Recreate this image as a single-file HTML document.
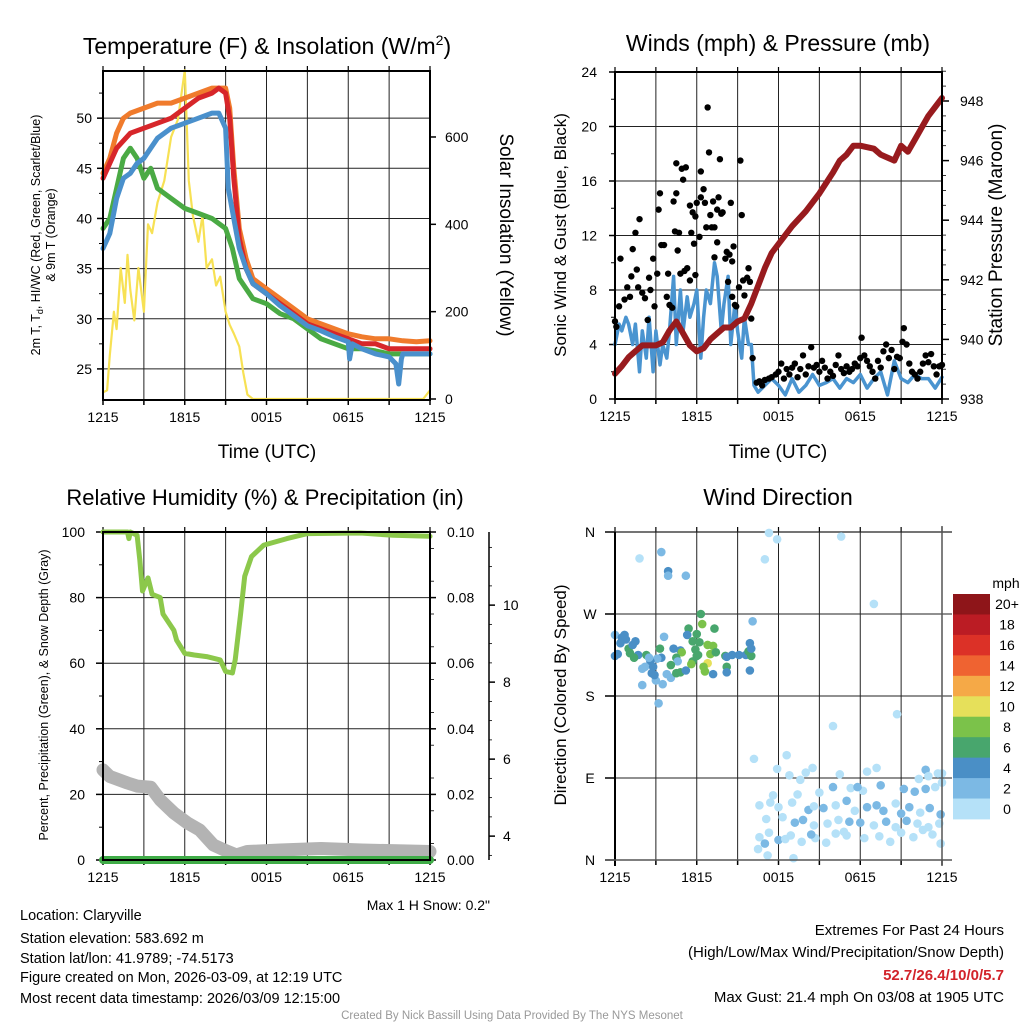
<!DOCTYPE html>
<html><head><meta charset="utf-8"><style>
body{margin:0;background:#fff;}
svg{display:block;font-family:"Liberation Sans",Arial,sans-serif;}
</style></head><body>
<svg id="c" width="1024" height="1024" viewBox="0 0 1024 1024" xmlns="http://www.w3.org/2000/svg"></svg>
<script>
// ---------- DATA ----------
const timeTicks = [0, 6, 12, 18, 24];
const timeTickLabels = ["1215", "1815", "0015", "0615", "1215"];
// Panel 1: temperatures (F)
const redT = [0,1,2,3,4,5,6,7,8,8.5,9,9.3,9.6,10,10.5,11,12,13,14,15,16,17,18,19,20,21,22,23,24];
const redV = [44,47,48.5,49,49.5,50,51,52,52.5,53,52.5,50,44,38,35,33.5,32.5,31.5,30.5,29.5,29,28.5,28,27.5,27.5,27,27,27,27];
const orangeT = [0,0.5,1,1.5,2,3,4,5,6,7,8,9,9.3,9.6,10,10.5,11,12,13,14,15,16,17,18,19,20,21,22,23,24];
const orangeV = [44.5,46,48.5,50,50.5,51,51.5,51.5,52,52.5,53,53,51,45,39,36,34,33,32,31,30,29.5,29,28.5,28.2,28,28,27.8,27.7,27.8];
const blueT = [0,0.5,1,1.5,2,2.5,3,3.5,4,5,6,7,8,8.5,9,9.2,9.6,10,10.5,11,12,13,14,15,16,17,18,18.1,18.3,19,20,21,21.5,21.7,21.9,22,23,24];
const blueV = [37,38.5,42,44,44.5,45.5,46,47,48,49,49.5,50,50.5,50.5,49,43,40,37,35,33.5,32.5,31.3,30.3,29.3,28.8,28.2,27.7,26,27.5,27,26.5,26.2,25.5,23.5,26,26.5,26.5,26.5];
const greenT = [0,0.5,1,1.5,2,2.5,3,3.5,4,5,6,7,8,9,9.5,10,10.5,11,12,13,14,15,16,17,18,19,20,21,22,23,24];
const greenV = [39,40,43,46,47,46,44,45,43,42,41,40.5,40,39,37,34,33,32,31.5,30.5,30,29,28,27.5,27,27,26.8,26.5,26.5,26.5,26.5];
const solarT = [0,0.3,0.5,0.8,1,1.3,1.6,1.8,2,2.3,2.6,3,3.3,3.6,4,4.5,5,5.5,6,6.3,6.6,7,7.3,7.6,8,8.3,8.6,9,9.3,9.6,10,10.3,10.6,11,23.5,24];
const solarV = [15,20,100,200,160,300,220,330,250,180,300,200,400,380,450,500,600,640,753,500,420,360,420,300,320,260,280,200,170,150,120,60,10,0,0,20];
// Panel 2: winds (mph) and pressure (mb)
const windT = [0,0.3,0.5,0.8,1,1.3,1.5,1.8,2,2.3,2.5,2.8,3,3.3,3.5,3.8,4,4.3,4.5,4.8,5,5.3,5.5,5.8,6,6.3,6.5,6.7,7,7.3,7.5,7.8,8,8.3,8.5,8.8,9,9.3,9.5,9.8,10,10.2,10.5,11,11.5,12,12.5,13,13.5,14,14.5,15,15.5,16,16.5,17,17.5,18,18.5,19,19.5,20,20.5,21,21.5,22,22.5,23,23.5,24];
const windV = [4,5.5,5,6,5.5,4,5.5,2,5,3,6,2,5,2.5,4,3,5,9,4,8,5,7.5,6,7,8,3,6,8,7,10,9,5,7,9,4,7,5,3,6,4,4,1,0.5,1,1.5,1,0.3,1.5,0.5,1,1.8,1,1.2,1.5,0.8,1.5,1.2,1.8,0.8,1.5,2,0.3,2.8,1.5,1.2,1.8,1.5,1.5,0.8,1.6];
const gustT = [0,0.1,0.3,0.4,0.7,0.9,1.1,1.2,1.3,1.5,1.6,1.7,1.8,2.0,2.2,2.4,2.5,2.6,2.8,2.9,3.1,3.2,3.3,3.4,3.6,3.8,3.9,4.0,4.2,4.3,4.4,4.5,4.5,4.6,4.7,4.8,4.9,5.0,5.1,5.2,5.3,5.5,5.5,5.6,5.7,5.8,5.9,5.9,6.0,6.2,6.3,6.3,6.5,6.6,6.7,6.8,6.9,7.0,7.1,7.2,7.3,7.3,7.5,7.5,7.6,7.7,7.8,7.9,8.1,8.2,8.3,8.4,8.5,8.6,8.6,8.7,8.8,8.9,9.1,9.2,9.3,9.4,9.5,9.7,9.8,9.9,10.0,10.1,10.4,10.6,10.8,11.0,11.3,11.5,11.8,12.0,12.2,12.4,12.6,12.8,13.0,13.2,13.4,13.6,13.8,14.0,14.2,14.4,14.6,14.8,15.0,15.2,15.4,15.6,15.8,16.0,16.2,16.4,16.6,16.8,17.0,17.2,17.4,17.6,17.8,18.0,18.1,18.3,18.5,18.7,18.9,19.1,19.3,19.5,19.7,19.9,20.1,20.3,20.5,20.7,20.9,21.1,21.2,21.4,21.6,21.8,22.0,22.2,22.4,22.6,22.8,23.0,23.2,23.4,23.6,23.8,24.0];
const gustV = [5.7,5.3,6.8,10.3,7.3,8.2,7.5,9.0,11.0,12.2,9.5,8.2,13.2,7.8,7.4,5.8,8.9,8.0,10.3,6.8,9.2,13.9,15.1,11.3,11.3,7.5,9.2,6.9,6.7,14.5,12.3,15.1,17.3,10.9,12.2,9.2,16.9,16.1,9.4,17.0,9.6,14.2,8.7,12.2,13.7,11.4,9.1,13.4,14.4,11.9,14.8,16.7,15.4,14.4,12.6,21.4,18.1,13.5,12.6,14.5,12.6,10.4,11.5,13.9,14.8,17.6,13.6,13.7,10.3,10.8,8.6,10.6,14.4,10.1,7.5,11.2,6.9,6.8,8.2,17.5,13.5,8.7,7.6,8.9,9.6,8.6,5.9,3.0,1.2,1.3,1.0,1.4,1.5,1.6,1.8,2.0,2.6,1.5,2.2,1.8,2.3,2.6,1.6,2.2,3.2,1.8,2.4,3.8,2.3,2.5,2.0,2.8,2.3,1.5,2.0,1.7,2.5,3.2,2.2,1.9,2.4,2.0,2.2,2.6,2.4,3.0,4.5,3.2,2.8,2.4,2.0,1.5,2.8,2.3,3.5,4.0,3.0,3.6,2.2,3.1,3.0,4.2,5.2,4.0,2.6,2.0,1.8,1.5,2.0,2.6,3.2,2.7,3.3,2.4,1.8,2.4,2.5];
const presT = [0,0.5,1,1.5,2,2.5,3,3.5,4,4.5,5,5.5,6,6.5,7,7.5,8,8.5,9,9.5,10,10.5,11,11.5,12,13,14,15,16,16.5,17,17.5,18,19,19.5,20,20.5,21,21.5,22,22.5,23,23.5,24];
const presV = [938.85,939.1,939.4,939.6,939.8,939.8,939.8,939.9,940.3,940.6,940.2,939.8,939.6,939.7,940.0,940.2,940.4,940.4,940.6,940.7,941.2,941.8,942.4,942.9,943.2,943.8,944.3,944.9,945.6,946.0,946.2,946.5,946.5,946.4,946.2,946.1,946.0,946.5,946.3,946.7,947.1,947.5,947.8,948.1];
// Panel 3: RH (%), precip (in), snow depth (in)
const rhT = [0,1.8,1.9,2.0,2.5,2.7,2.9,3.3,3.6,4.2,4.4,5.2,5.4,6,6.7,7.6,8.6,9,9.5,9.7,10.1,10.4,10.9,11.8,13.5,15,18.9,21.3,24];
const rhV = [100,100,98,100,99,91.5,82,86,81,80,75,70,67,63,62.5,62,61,57.5,57,61,75,86.5,92.5,96,98,99.5,99.7,99,98.7];
const precipT = [0,24];
const precipV = [0,0];
const snowT = [0,0.5,1.8,2.5,3.5,4.2,5.2,6.2,7.1,8.1,8.9,9.8,10.6,13,16,19,24];
const snowV = [5.72,5.55,5.38,5.3,5.27,4.94,4.6,4.34,4.16,3.77,3.64,3.51,3.6,3.64,3.68,3.64,3.6];
// Panel 4: wind direction (deg) coloured by speed (mph)
const dirT = [1.8,3.4,3.9,3.9,5.2,11.3,11.0,11.9,16.6,19.0,10.1,6.3,6.4,7.3,5.4,5.3,3.6,0.0,0.5,0.7,0.8,0.4,1.5,1.0,1.3,1.1,1.7,2.3,1.4,0,0.2,3.3,4.3,4.8,4.9,5.7,6.0,6.2,6.8,7.2,5.9,6.1,7.0,7.4,8.1,8.6,9.1,9.6,9.8,10.0,10.0,9.9,8.2,8.2,6.8,6.6,6.5,6.0,5.7,5.6,4.5,4.6,4.1,3.4,3.1,2.6,2.5,2.0,2.2,2.8,2.7,3.8,4.1,4.5,4.8,5.2,7.2,8.2,9.9,2.0,3.0,2.9,3.2,3.5,
 10.2,16.0,20.7,12.6,14.5,11.9,13.6,12.8,14.0,16.5,18.5,19.2,22.8,23.7,24,23.0,22.3,11.6,13.4,15.0,16.0,17.3,18.2,17.8,19.5,21.2,22.0,22.8,23.5,24,10.6,11.4,12.0,13.0,14.2,14.6,15.3,16.2,17.0,17.6,18.5,19.2,19.7,20.6,21.0,21.6,22.4,23.1,23.9,11.1,12.3,13.2,13.8,14.6,15.6,16.4,17.2,18.0,19.0,19.9,20.6,21.4,22.2,23.0,23.8,10.6,11.3,12.0,12.9,13.7,14.7,15.5,16.2,17.0,18.3,19.4,20.2,21.0,23.9,11.0,10.5,11.2,13.1,12.5,16.8,14.4,21.9,22.6,23.3];
const dirV = [331,338,317,312,312,359,330,352,355,281,262,270,259,254,254,247,245,247,244,247,242,238,240,232,236,227,225,225,222,224,226,232,232,230,228,240,248,239,236,235,231,225,226,228,224,225,225,225,229,224,232,238,212,223,216,207,212,224,218,215,222,218,214,222,221,218,222,210,212,212,205,204,200,205,206,208,204,206,208,192,197,203,172,193,
 111,147,160,115,101,100,88,93,96,94,97,101,99,95,95,92,89,71,72,74,80,79,76,80,82,78,75,78,80,85,60,63,58,63,55,59,57,60,65,54,58,60,54,62,51,58,52,57,50,45,47,41,44,38,40,44,42,41,38,42,36,43,40,36,40,25,30,22,27,20,24,19,29,27,24,26,20,30,18,18,12,5,2,23,31,28,25,33,28];
const dirS = [1,3,5,3,3,1,1,1,1,1,3,7,9,7,7,5,3,3,5,5,5,5,5,7,5,7,5,7,7,5,5,7,5,5,9,7,7,7,9,9,7,7,9,7,7,5,5,5,7,7,5,5,7,5,11,9,9,7,7,9,7,3,7,5,3,5,3,3,3,5,5,3,3,7,7,5,5,5,5,3,3,5,3,3,
 1,1,1,1,1,1,1,1,1,1,1,1,3,1,1,1,1,1,1,1,3,1,1,3,3,3,3,3,1,1,1,1,1,1,3,1,3,1,3,1,3,3,3,1,3,3,1,3,3,1,1,3,3,1,1,1,3,3,1,3,1,3,1,1,1,1,1,3,1,1,1,1,1,1,1,1,1,1,1,3,1,1,1,1,1,3,1,1,1];
const speedBinLabels = ["20+","18","16","14","12","10","8","6","4","2","0"];
const speedBinColors = ["#8e1519","#bb1c24","#dc3127","#ef6331","#f5a947","#e6e05a","#7bc24a","#48a66d","#4a8fc6","#7cb9e4","#b5e1f8"];

// ---------- HELPERS ----------
const NS = "http://www.w3.org/2000/svg";
const svg = document.getElementById("c");
function mk(tag, attrs, name, parent) {
  const el = document.createElementNS(NS, tag);
  for (const k in attrs) el.setAttribute(k, attrs[k]);
  
  
  (parent || svg).appendChild(el);
  return el;
}
function txt(x, y, s, size, anchor, name, extra) {
  const el = mk("text", Object.assign({x: x, y: y, "font-size": size, "text-anchor": anchor || "middle", fill: "#000"}, extra || {}), name);
  el.textContent = s;
  return el;
}
function ln(x1, y1, x2, y2, stroke, w, name) {
  return mk("line", {x1: x1, y1: y1, x2: x2, y2: y2, stroke: stroke, "stroke-width": w}, name);
}
function series(ts, vs, X, Y, color, w, name, cap) {
  let d = "";
  for (let i = 0; i < ts.length; i++) d += (i ? "L" : "M") + X(ts[i]).toFixed(1) + "," + Y(vs[i]).toFixed(1);
  return mk("path", {d: d, fill: "none", stroke: color, "stroke-width": w, "stroke-linejoin": "round", "stroke-linecap": cap || "round"}, name);
}
function frame(x0, y0, x1, y1, name) {
  mk("rect", {x: x0, y: y0, width: x1 - x0, height: y1 - y0, fill: "none", stroke: "#000", "stroke-width": 2}, name);
}
function timeAxis(X, yb, x0, x1, yt, prefix) {
  for (let h = 3; h < 24; h += 3) ln(X(h), yt, X(h), yb, "#222", 1, prefix + "-vgrid");
  for (let h = 0; h <= 24; h += 3) ln(X(h), yb, X(h), yb + 5, "#000", 1.5, prefix + "-x-tick");
  for (let h = 0; h <= 24; h += 3) ln(X(h), yt, X(h), yt - 5, "#000", 1.2, prefix + "-x-top-tick");
  for (let i = 0; i < timeTicks.length; i++) txt(X(timeTicks[i]), yb + 22, timeTickLabels[i], 14, "middle", prefix + "-x-tick-label");
}

// ---------- PANEL 1: Temperature ----------
const X1 = t => 103 + t * 327 / 24;
const YT = v => 400 - (v - 21.9) * 10.03;
const YS = w => 399 - w * 0.4367;
timeAxis(X1, 400, 103, 430, 71, "temp");
for (let v = 25; v <= 50; v += 5) {
  ln(103, YT(v), 430, YT(v), "#222", 1, "temp-hgrid");
  ln(97, YT(v), 103, YT(v), "#000", 1.5, "temp-y-tick");
  txt(92, YT(v) + 5, String(v), 14, "end", "temp-y-tick-label");
}
for (let v = 27.5; v <= 55; v += 5) ln(99, YT(v), 103, YT(v), "#000", 1, "temp-y-minor-tick");
for (let w = 0; w <= 600; w += 200) {
  ln(430, YS(w), 436, YS(w), "#000", 1.5, "solar-y-tick");
  txt(445, YS(w) + 5, String(w), 14, "start", "solar-y-tick-label");
}
series(solarT, solarV, X1, YS, "#f7e154", 2.2, "solar-insolation-line");
series(greenT, greenV, X1, YT, "#4aaa44", 5, "dewpoint-line");
series(orangeT, orangeV, X1, YT, "#f07b2c", 5, "temp-9m-line");
series(redT, redV, X1, YT, "#d7262a", 5, "temp-2m-line");
series(blueT, blueV, X1, YT, "#4a90cc", 5, "heat-index-windchill-line");
frame(103, 71, 430, 400, "temp-plot-frame");
const t1 = txt(267, 54, "", 23, "middle", "temp-chart-title");
t1.innerHTML = 'Temperature (F) &amp; Insolation (W/m<tspan dy="-9" font-size="14">2</tspan><tspan dy="9">)</tspan>';
txt(267, 458, "Time (UTC)", 19, "middle", "temp-x-axis-title");
const yl1 = txt(0, 0, "", 12.5, "middle", "temp-y-axis-title", {transform: "translate(40,235) rotate(-90)"});
yl1.innerHTML = '2m T, T<tspan dy="3" font-size="9">d</tspan><tspan dy="-3">, HI/WC (Red, Green, Scarlet/Blue)</tspan>';
txt(0, 0, "& 9m T (Orange)", 12.5, "middle", "temp-y-axis-title-line2", {transform: "translate(55,235) rotate(-90)"});
txt(0, 0, "Solar Insolation (Yellow)", 19, "middle", "solar-y-axis-title", {transform: "translate(500,235) rotate(90)"});

// ---------- PANEL 2: Winds ----------
const X2 = t => 615 + t * 327 / 24;
const YW = v => 399 - v * 327 / 24;
const YP = p => 399 - (p - 938) * 29.8;
timeAxis(X2, 399, 615, 942, 72, "wind");
for (let v = 0; v <= 24; v += 4) {
  if (v > 0 && v < 24) ln(615, YW(v), 942, YW(v), "#222", 1, "wind-hgrid");
  ln(609, YW(v), 615, YW(v), "#000", 1.5, "wind-y-tick");
  txt(597, YW(v) + 5, String(v), 14, "end", "wind-y-tick-label");
}
for (let v = 2; v <= 22; v += 4) ln(611, YW(v), 615, YW(v), "#000", 1, "wind-y-minor-tick");
for (let p = 938; p <= 948; p += 2) {
  ln(942, YP(p), 949, YP(p), "#000", 1.5, "pressure-y-tick");
  txt(960, YP(p) + 5, String(p), 14, "start", "pressure-y-tick-label");
}
for (let p = 938.5; p <= 949; p += 0.5) if (p % 2) ln(942, YP(p), 946, YP(p), "#000", 0.8, "pressure-y-minor-tick");
series(windT, windV, X2, YW, "#4a94d0", 3.5, "sonic-wind-line");
for (let i = 0; i < gustT.length; i++) {
  mk("circle", {cx: X2(gustT[i]), cy: YW(gustV[i]), r: 3.2, fill: "#000"}, "gust-point");
}
series(presT, presV, X2, YP, "#981b1e", 6, "station-pressure-line");
frame(615, 72, 942, 399, "wind-plot-frame");
txt(778, 51, "Winds (mph) & Pressure (mb)", 23, "middle", "wind-chart-title");
txt(778, 458, "Time (UTC)", 19, "middle", "wind-x-axis-title");
txt(0, 0, "Sonic Wind & Gust (Blue, Black)", 17, "middle", "wind-y-axis-title", {transform: "translate(566,235) rotate(-90)"});
txt(0, 0, "Station Pressure (Maroon)", 19, "middle", "pressure-y-axis-title", {transform: "translate(1002,235) rotate(-90)"});

// ---------- PANEL 3: RH ----------
const X3 = t => 103 + t * 327 / 24;
const YR = v => 860 - v * 3.28;
const YPr = v => 860 - v * 3280;
const YSn = s => 860 - (s - 3.38) * 38.5;
timeAxis(X3, 860, 103, 430, 532, "rh");
for (let v = 0; v <= 100; v += 20) {
  if (v > 0) ln(103, YR(v), 430, YR(v), "#222", 1, "rh-hgrid");
  ln(96, YR(v), 103, YR(v), "#000", 1.5, "rh-y-tick");
  txt(85, YR(v) + 5, String(v), 14, "end", "rh-y-tick-label");
}
for (let v = 10; v <= 90; v += 20) ln(99, YR(v), 103, YR(v), "#000", 1, "rh-y-minor-tick");
for (let i = 0; i <= 5; i++) {
  const v = i * 0.02;
  ln(430, YPr(v), 436, YPr(v), "#000", 1.5, "precip-y-tick");
  txt(447, YPr(v) + 5, v.toFixed(2), 14, "start", "precip-y-tick-label");
}
for (let i = 1; i < 20; i += 2) ln(430, YPr(i * 0.005), 434, YPr(i * 0.005), "#000", 0.8, "precip-y-minor-tick");
ln(489, 532, 489, 860, "#000", 1.5, "snow-y-axis-line");
for (let s = 4; s <= 10; s += 2) {
  ln(489, YSn(s), 495, YSn(s), "#000", 1.5, "snow-y-tick");
  txt(503, YSn(s) + 5, String(s), 14, "start", "snow-y-tick-label");
}
for (let s = 3.5; s <= 11.5; s += 0.5) if (s % 2) ln(489, YSn(s), 492, YSn(s), "#000", 0.8, "snow-y-minor-tick");
series(rhT, rhV, X3, YR, "#8cc84b", 5, "relative-humidity-line");
series(snowT, snowV, X3, YSn, "#b3b3b3", 13, "snow-depth-line");
series(precipT, precipV, X3, YPr, "#3fac47", 8, "precipitation-line");
frame(103, 532, 430, 860, "rh-plot-frame");
txt(265, 505, "Relative Humidity (%) & Precipitation (in)", 22, "middle", "rh-chart-title");
txt(0, 0, "Percent, Precipitation (Green), & Snow Depth (Gray)", 12.5, "middle", "rh-y-axis-title", {transform: "translate(48,695) rotate(-90)"});
txt(490, 910, 'Max 1 H Snow: 0.2"', 14, "end", "max-snow-note");

// ---------- PANEL 4: Wind direction ----------
const X4 = t => 615 + t * 327 / 24;
const YD = d => 860 - d * 328 / 360;
function speedColor(s) {
  let idx = 10 - Math.floor(s / 2);
  if (idx < 0) idx = 0;
  if (idx > 10) idx = 10;
  return speedBinColors[idx];
}
timeAxis(X4, 860, 615, 942, 532, "dir");
const dirLabels = ["N", "E", "S", "W", "N"];
for (let i = 0; i < 5; i++) {
  const d = i * 90;
  if (i > 0 && i < 4) ln(605, YD(d), 952, YD(d), "#222", 1, "dir-hgrid");
  ln(605, YD(d), 615, YD(d), "#000", 1.5, "dir-y-tick");
  txt(590, YD(d) + 5, dirLabels[i], 14, "middle", "dir-y-tick-label");
}
ln(605, YD(360), 952, YD(360), "#222", 1.2, "dir-top-line");
for (let i = 0; i < dirT.length; i++) {
  mk("circle", {cx: X4(dirT[i]), cy: YD(dirV[i]), r: 4.3, fill: speedColor(dirS[i])}, "wind-direction-point");
}
ln(615, 532, 615, 866, "#000", 2, "dir-left-axis");
ln(605, 860, 952, 860, "#555", 1.5, "dir-bottom-axis");
ln(942, 526, 942, 866, "#555", 1.5, "dir-right-axis");
txt(778, 505, "Wind Direction", 23, "middle", "dir-chart-title");
txt(0, 0, "Direction (Colored By Speed)", 17, "middle", "dir-y-axis-title", {transform: "translate(566,695) rotate(-90)"});
// colorbar
const cbTop = 594, cbH = 225 / 11;
for (let i = 0; i < speedBinLabels.length; i++) {
  mk("rect", {x: 953, y: cbTop + i * cbH, width: 37, height: cbH + 0.4, fill: speedBinColors[i]}, "colorbar-swatch");
  txt(1007, cbTop + i * cbH + cbH / 2 + 5, speedBinLabels[i], 14, "middle", "colorbar-label");
}
txt(1006, 588, "mph", 14, "middle", "colorbar-title");

// ---------- FOOTER ----------
const foot = ["Location: Claryville", "Station elevation: 583.692 m", "Station lat/lon: 41.9789; -74.5173", "Figure created on Mon, 2026-03-09, at 12:19 UTC", "Most recent data timestamp: 2026/03/09 12:15:00"];
const footY = [920, 943, 963, 982, 1003];
for (let i = 0; i < foot.length; i++) txt(20, footY[i], foot[i], 14.5, "start", "station-info-line");
txt(1004, 935, "Extremes For Past 24 Hours", 15, "end", "extremes-title");
txt(1004, 957, "(High/Low/Max Wind/Precipitation/Snow Depth)", 15, "end", "extremes-subtitle");
txt(1004, 980, "52.7/26.4/10/0/5.7", 15, "end", "extremes-values", {fill: "#d2232a", "font-weight": "bold"});
txt(1004, 1002, "Max Gust: 21.4 mph On 03/08 at 1905 UTC", 15, "end", "max-gust-note");
txt(512, 1019, "Created By Nick Bassill Using Data Provided By The NYS Mesonet", 11.5, "middle", "credits", {fill: "#999"});
</script>
</body></html>
